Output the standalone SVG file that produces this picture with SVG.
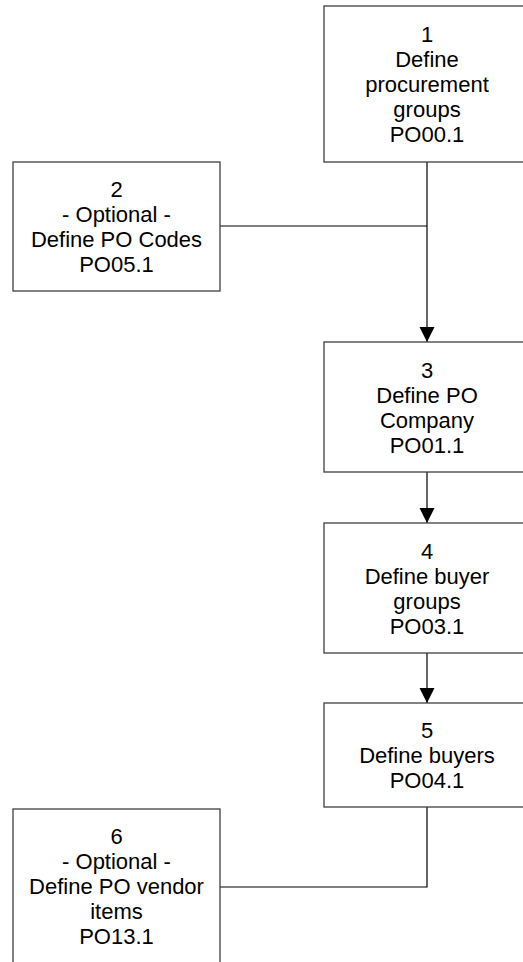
<svg xmlns="http://www.w3.org/2000/svg" width="523" height="962" viewBox="0 0 523 962">
  <style>
    .box { fill: #ffffff; stroke: #404040; stroke-width: 1.3; }
    .lbl { font-family: "Liberation Sans", Arial, sans-serif; font-size: 22px; fill: #000000; text-anchor: middle; }
    .wire { fill: none; stroke: #000000; stroke-width: 1.2; }
    .arrow { fill: none; stroke: #000000; stroke-width: 1.2; marker-end: url(#head); }
  </style>
  <defs>
    <marker id="head" markerUnits="userSpaceOnUse" markerWidth="16" markerHeight="16" refX="15" refY="7.5" orient="auto">
      <path d="M0,0 L15,7.5 L0,15 Z" fill="#000000"/>
    </marker>
  </defs>
  <rect width="523" height="962" fill="#ffffff"/>

  <g id="connectors">
    <path class="arrow" d="M427,162 L427,342"/>
    <path class="wire" d="M220,226 L427,226"/>
    <path class="arrow" d="M427,472 L427,523"/>
    <path class="arrow" d="M427,653 L427,703"/>
    <path class="wire" d="M427,807 L427,887 L220,887"/>
  </g>

  <g id="node1">
    <rect class="box" x="324" y="6" width="206" height="156"/>
    <text class="lbl" x="427" y="42">1</text>
    <text class="lbl" x="427" y="67">Define</text>
    <text class="lbl" x="427" y="92">procurement</text>
    <text class="lbl" x="427" y="117">groups</text>
    <text class="lbl" x="427" y="142">PO00.1</text>
  </g>

  <g id="node2">
    <rect class="box" x="13" y="162" width="207" height="129"/>
    <text class="lbl" x="116.5" y="197">2</text>
    <text class="lbl" x="116.5" y="222">- Optional -</text>
    <text class="lbl" x="116.5" y="247">Define PO Codes</text>
    <text class="lbl" x="116.5" y="272">PO05.1</text>
  </g>

  <g id="node3">
    <rect class="box" x="324" y="342" width="206" height="130"/>
    <text class="lbl" x="427" y="377.5">3</text>
    <text class="lbl" x="427" y="402.5">Define PO</text>
    <text class="lbl" x="427" y="427.5">Company</text>
    <text class="lbl" x="427" y="452.5">PO01.1</text>
  </g>

  <g id="node4">
    <rect class="box" x="324" y="523" width="206" height="130"/>
    <text class="lbl" x="427" y="558.5">4</text>
    <text class="lbl" x="427" y="583.5">Define buyer</text>
    <text class="lbl" x="427" y="608.5">groups</text>
    <text class="lbl" x="427" y="633.5">PO03.1</text>
  </g>

  <g id="node5">
    <rect class="box" x="324" y="703" width="206" height="104"/>
    <text class="lbl" x="427" y="738">5</text>
    <text class="lbl" x="427" y="763">Define buyers</text>
    <text class="lbl" x="427" y="788">PO04.1</text>
  </g>

  <g id="node6">
    <rect class="box" x="13" y="809" width="207" height="160"/>
    <text class="lbl" x="116.5" y="844">6</text>
    <text class="lbl" x="116.5" y="869">- Optional -</text>
    <text class="lbl" x="116.5" y="894">Define PO vendor</text>
    <text class="lbl" x="116.5" y="919">items</text>
    <text class="lbl" x="116.5" y="944">PO13.1</text>
  </g>
</svg>
